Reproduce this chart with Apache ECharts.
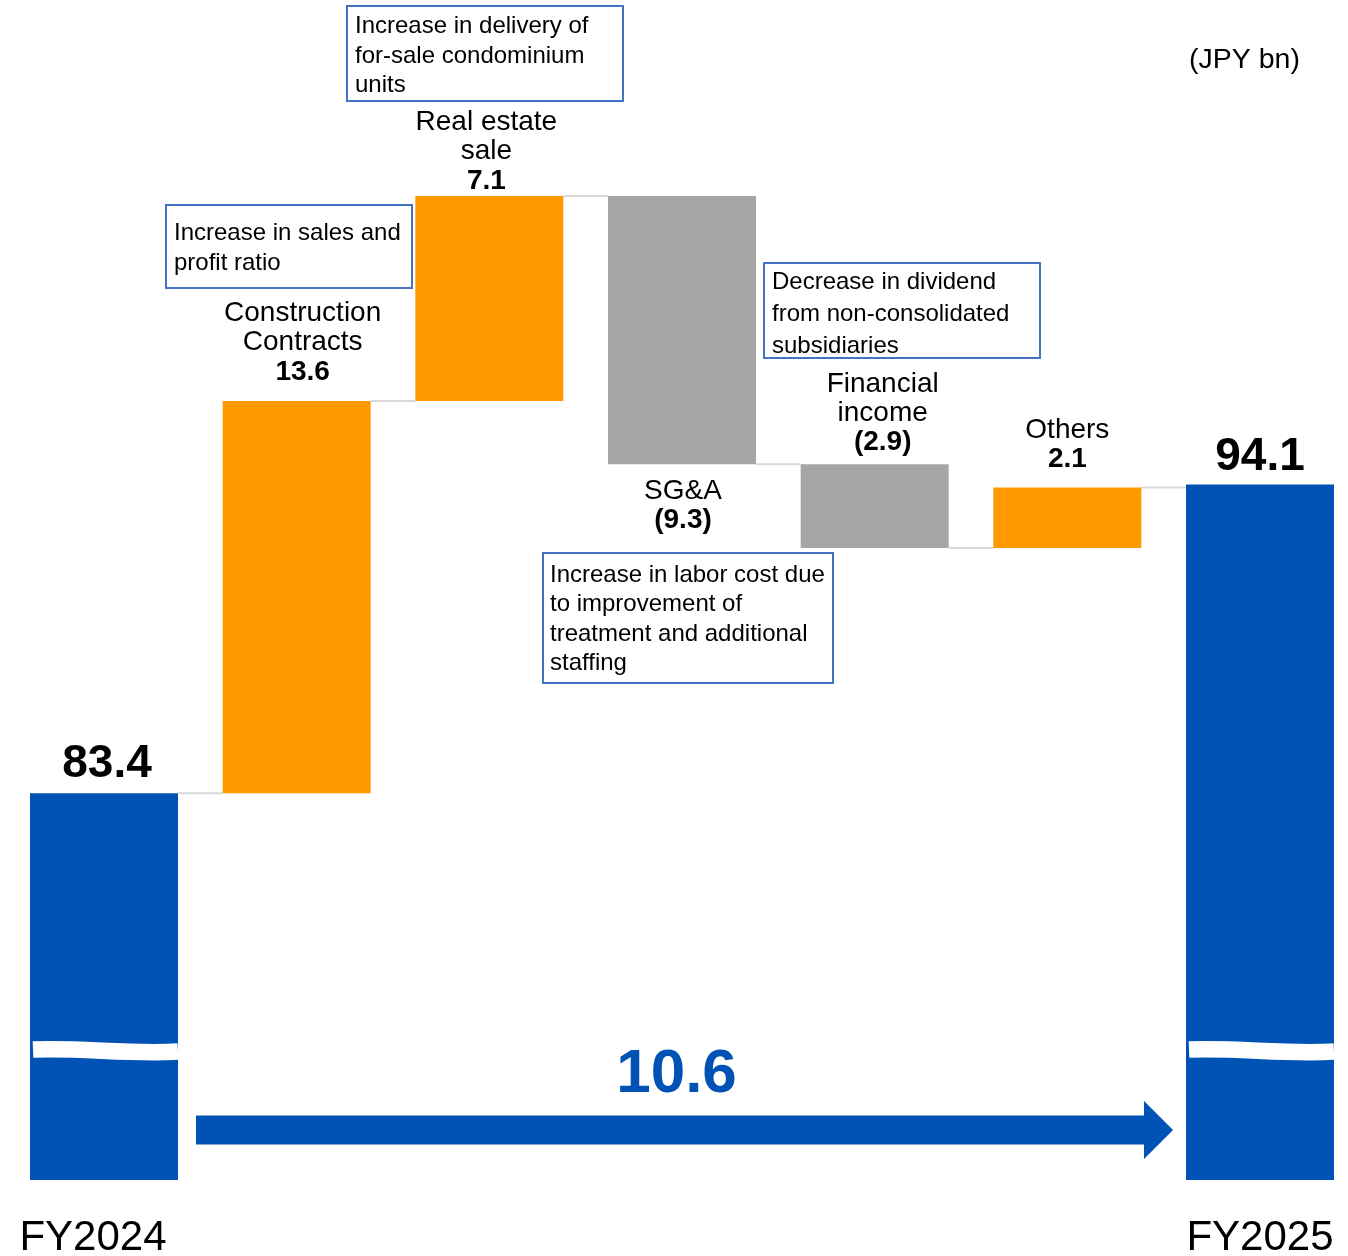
<!DOCTYPE html>
<html><head><meta charset="utf-8">
<script src="https://cdn.jsdelivr.net/npm/echarts@6/dist/echarts.min.js"></script>
<style>html,body{margin:0;padding:0;background:#fff}#c{width:1348px;height:1256px}</style>
</head><body><div id="c"></div>
<script>
// ---- data ----
const categories = ['FY2024', 'Construction Contracts', 'Real estate sale', 'SG&A', 'Financial income', 'Others', 'FY2025'];
const labelNames = ['', 'Construction\nContracts', 'Real estate\nsale', 'SG&A', 'Financial\nincome', 'Others', ''];
const startTotal = 83.4;
const deltas = [13.6, 7.1, -9.3, -2.9, 2.1];
const endTotal = 94.1;
const valueLabels = ['83.4', '13.6', '7.1', '(9.3)', '(2.9)', '2.1', '94.1'];
const changeLabel = '10.6';
const unitLabel = '(JPY bn)';
const notes = [
  'Increase in delivery of\nfor-sale condominium\nunits',
  'Increase in sales and\nprofit ratio',
  'Decrease in dividend\nfrom non-consolidated\nsubsidiaries',
  'Increase in labor cost due\nto improvement of\ntreatment and additional\nstaffing'
];
const axisMin = 70, axisMax = 104.1, breakValue = 74.52, arrowValue = 71.73;

// ---- derived ----
const FONT = '"Liberation Sans", Arial, sans-serif';
const ORANGE = '#FF9900', GRAY = '#A6A6A6', BLUE = '#0052B4';
const n = categories.length;
const base = new Array(n).fill('-'), pos = new Array(n).fill('-'), neg = new Array(n).fill('-'), tot = new Array(n).fill('-');
const levels = [];
let L = startTotal;
tot[0] = startTotal; levels.push(L);
deltas.forEach((d, k) => {
  const i = k + 1;
  if (d >= 0) { base[i] = L; pos[i] = d; } else { base[i] = +(L + d).toFixed(2); neg[i] = -d; }
  L = +(L + d).toFixed(2);
  levels.push(L);
});
tot[n - 1] = endTotal;

const labelCfg = {
  1: { position: 'top', distance: 14, offset: [6, 0] },
  2: { position: 'top', distance: 0, offset: [-3, 0] },
  3: { position: 'bottom', distance: 12, offset: [1, 0] },
  4: { position: 'top', distance: 7, offset: [8, 0] },
  5: { position: 'top', distance: 13, offset: [0, 0] }
};
const rich = {
  n: { fontFamily: FONT, fontSize: 28, lineHeight: 29, color: '#000' },
  b: { fontFamily: FONT, fontSize: 28, fontWeight: 'bold', lineHeight: 30, color: '#000' }
};
function deltaItem(v, i) {
  if (v === '-') return '-';
  const c = labelCfg[i];
  const txt = labelNames[i].split('\n').map(s => '{n|' + s + '}').join('\n') + '\n{b|' + valueLabels[i] + '}';
  return { value: v, label: { show: true, position: c.position, distance: c.distance, offset: c.offset, formatter: txt, rich: rich } };
}
function totalItem(v, i) {
  if (v === '-') return '-';
  return { value: v, label: { show: true, position: 'top', distance: i === 0 ? 6 : 4, offset: i === 0 ? [3, 0] : [0, 0],
    formatter: valueLabels[i], fontFamily: FONT, fontSize: 46, fontWeight: 'bold', color: '#000' } };
}

const BARW = 148;
const chart = echarts.init(document.getElementById('c'), null, { renderer: 'canvas' });
const option = {
  animation: false,
  backgroundColor: '#fff',
  grid: { left: 7.67, top: 196, width: 1348.67, height: 984, containLabel: false, outerBoundsMode: 'none' },
  xAxis: {
    type: 'category', data: categories,
    axisLine: { show: false }, axisTick: { show: false }, splitLine: { show: false },
    axisLabel: {
      interval: 0, margin: 37, hideOverlap: false,
      formatter: (v, i) => (i === 0 ? '{a|' + v + '}' : (i === n - 1 ? '{c|' + v + '}' : '')),
      rich: {
        a: { fontFamily: FONT, fontSize: 42, color: '#000', padding: [0, 22, 0, 0] },
        c: { fontFamily: FONT, fontSize: 42, color: '#000' }
      }
    }
  },
  yAxis: { type: 'value', min: axisMin, max: axisMax, show: false, splitLine: { show: false } },
  series: [
    { type: 'bar', stack: 'w', barWidth: BARW, data: base, itemStyle: { color: 'transparent' }, silent: true },
    { type: 'bar', stack: 'w', barWidth: BARW, data: pos.map(deltaItem), itemStyle: { color: ORANGE } },
    { type: 'bar', stack: 'w', barWidth: BARW, data: neg.map(deltaItem), itemStyle: { color: GRAY } },
    { type: 'bar', stack: 'w', barWidth: BARW, data: tot.map(totalItem), itemStyle: { color: BLUE } },
    { // connectors
      type: 'custom', silent: true, z: 1,
      data: levels.slice(0, n - 1).map((lv, i) => [i, lv]),
      renderItem: (params, api) => {
        const i = api.value(0), lv = api.value(1);
        const a = api.coord([i, lv]), b = api.coord([i + 1, lv]);
        return { type: 'line', shape: { x1: a[0] + BARW / 2, y1: a[1], x2: b[0] - BARW / 2, y2: b[1] },
          style: { stroke: '#D9D9D9', lineWidth: 2 } };
      }
    },
    { // axis break marks
      type: 'custom', silent: true, z: 5,
      data: [[0, breakValue], [n - 1, breakValue]],
      renderItem: (params, api) => {
        const p = api.coord([api.value(0), api.value(1)]);
        const x0 = p[0] - BARW / 2 + 3, x1 = p[0] + BARW / 2, w = x1 - x0, y = p[1];
        return { type: 'bezierCurve',
          shape: { x1: x0, y1: y, cpx1: x0 + w / 3, cpy1: y - 2, cpx2: x0 + 2 * w / 3, cpy2: y + 5, x2: x1, y2: y + 2 },
          style: { stroke: '#fff', lineWidth: 16.5, fill: null } };
      }
    },
    { // change arrow
      type: 'custom', silent: true, z: 5,
      data: [[0, n - 1, arrowValue]],
      renderItem: (params, api) => {
        const a = api.coord([api.value(0), api.value(2)]), b = api.coord([api.value(1), api.value(2)]);
        const x0 = a[0] + BARW / 2 + 18, xt = b[0] - BARW / 2 - 13, y = a[1];
        const sh = 14.5, hh = 29, hl = 29;
        return { type: 'group', children: [
          { type: 'polygon', shape: { points: [[x0, y - sh], [xt - hl, y - sh], [xt - hl, y - hh], [xt, y], [xt - hl, y + hh], [xt - hl, y + sh], [x0, y + sh]] },
            style: { fill: BLUE } },
          { type: 'text', x: (x0 + xt) / 2 - 8, y: y - 55,
            style: { text: changeLabel, fill: BLUE, font: 'bold 62px ' + FONT, textAlign: 'center', textVerticalAlign: 'middle' } }
        ] };
      }
    }
  ],
  graphic: [
    { type: 'text', left: 1189, top: 46, style: { text: unitLabel, font: '28.5px ' + FONT, fill: '#000' } },
    { type: 'rect', shape: { x: 347, y: 6, width: 276, height: 95 }, style: { fill: '#fff', stroke: '#4472C4', lineWidth: 2 }, z: 10 },
    { type: 'text', x: 355, y: 12, style: { text: notes[0], font: '24px ' + FONT, lineHeight: 29.4, fill: '#000' }, z: 11 },
    { type: 'rect', shape: { x: 166, y: 205, width: 246, height: 83 }, style: { fill: '#fff', stroke: '#4472C4', lineWidth: 2 }, z: 10 },
    { type: 'text', x: 174, y: 219, style: { text: notes[1], font: '24px ' + FONT, lineHeight: 29.4, fill: '#000' }, z: 11 },
    { type: 'rect', shape: { x: 764, y: 263, width: 276, height: 95 }, style: { fill: '#fff', stroke: '#4472C4', lineWidth: 2 }, z: 10 },
    { type: 'text', x: 772, y: 266, style: { text: notes[2], font: '24px ' + FONT, lineHeight: 32, fill: '#000' }, z: 11 },
    { type: 'rect', shape: { x: 543, y: 553, width: 290, height: 130 }, style: { fill: '#fff', stroke: '#4472C4', lineWidth: 2 }, z: 10 },
    { type: 'text', x: 550, y: 561, style: { text: notes[3], font: '24px ' + FONT, lineHeight: 29.2, fill: '#000' }, z: 11 }
  ]
};
chart.setOption(option);
</script>
</body></html>
